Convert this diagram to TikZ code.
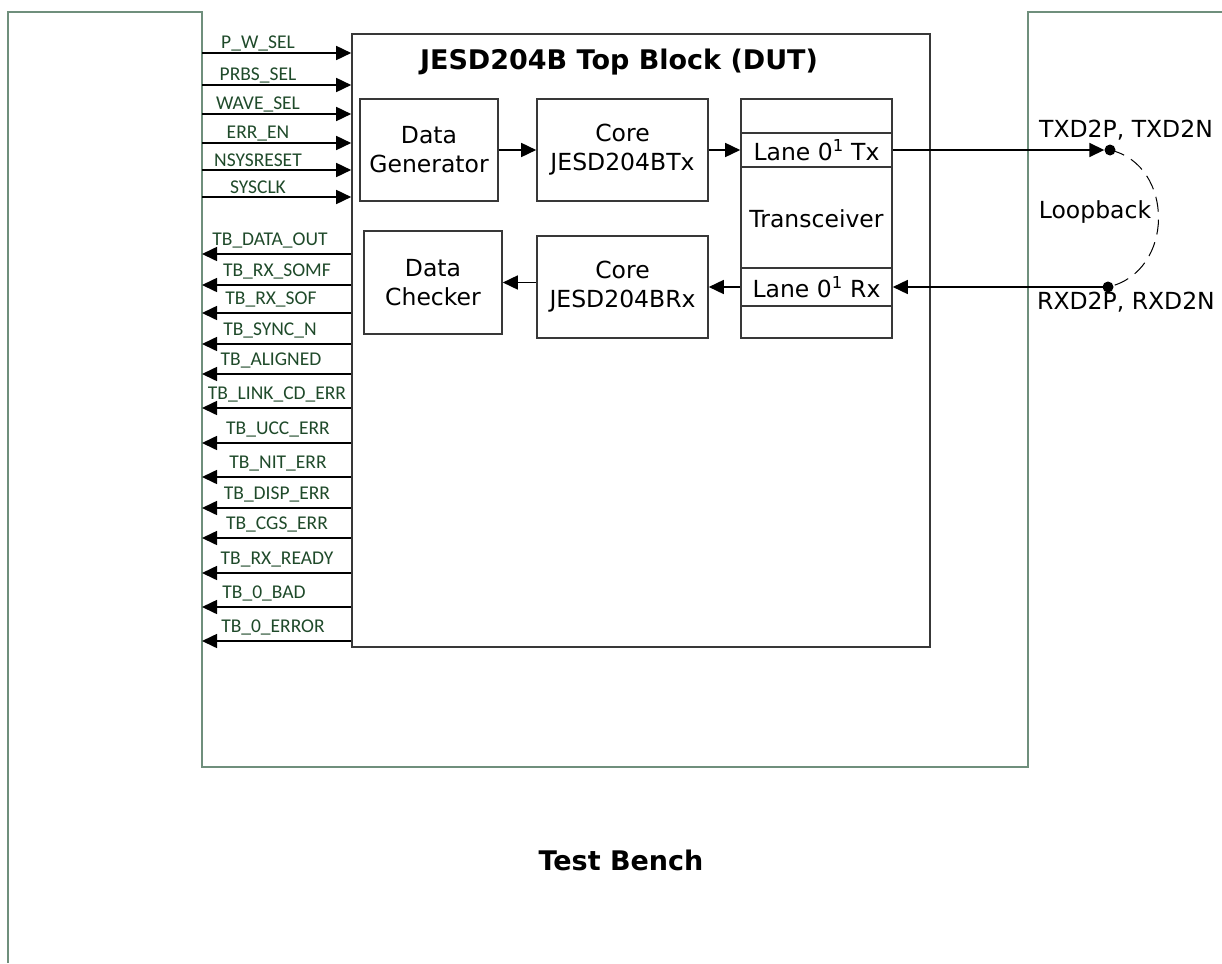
\documentclass[tikz,border=0pt]{standalone}
\usepackage{fontspec}
\setmainfont{DejaVu Sans}
\newfontfamily\sigfont{Carlito}
\usetikzlibrary{arrows.meta, positioning, calc}
\definecolor{tbGreen}{HTML}{6F8F7C}
\definecolor{sigGreen}{HTML}{1F4A2A}
\definecolor{boxGrey}{HTML}{383838}
\tikzset{
  tbline/.style  = {tbGreen, line width=1.8pt},
  sig/.style     = {-{Triangle[length=15pt,width=14pt]}, line width=1.6pt, black},
  sigl/.style    = {font=\sigfont\fontsize{19.5}{22}\selectfont, sigGreen, anchor=base, inner sep=0pt},
  blk/.style     = {draw=boxGrey, line width=1.6pt, inner sep=0pt, align=center,
                    font=\fontsize{23.5}{29}\selectfont},
  ttl/.style     = {font=\bfseries\fontsize{27}{32}\selectfont},
  pindot/.style  = {circle, fill=black, inner sep=0pt, minimum size=11pt},
  lbl/.style     = {font=\fontsize{23.5}{29}\selectfont},
}

\begin{document}
\begin{tikzpicture}[x=1pt,y=-1pt,
    lane/.style={blk, fill=white, minimum width=151pt}]
  \useasboundingbox (0,0) rectangle (1222,963);
  % test bench frame
  \draw[tbline] (8,963) -- (8,12) -- (202,12) -- (202,767) -- (1028,767) -- (1028,12) -- (1222,12);
  \node[ttl] (tbtitle) at (621,860) {Test Bench};
  % DUT
  \node[blk, minimum width=578pt, minimum height=613pt] (dut) at (641,340.5) {};
  \node[ttl] (duttitle) at (619,62) {JESD204B Top Block (DUT)};
  \node[blk, minimum width=138pt, minimum height=102pt] (gen) at (429,150) {Data\\Generator};
  \node[blk, minimum width=171pt, minimum height=102pt] (coretx) at (622.5,150) {Core\\JESD204BTx};
  \node[blk, minimum width=138pt, minimum height=103pt] (chk) at (433,282.5) {Data\\Checker};
  \node[blk, minimum width=171pt, minimum height=102pt] (corerx) at (622.5,287) {Core\\JESD204BRx};
  \node[blk, minimum width=151pt, minimum height=239pt] (xcvr) at (816.5,218.5) {Transceiver};
  \node[lane, minimum height=34pt] (lanetx) at (816.5,150) {Lane 0\textsuperscript{1} Tx};
  \node[lane, minimum height=38pt] (lanerx) at (816.5,287) {Lane 0\textsuperscript{1} Rx};
  \draw[sig] (gen.east) -- (coretx.west);
  \draw[sig] (coretx.east) -- (lanetx.west);
  \draw[sig] (lanerx.west) -- (corerx.east);
  \draw[sig] (corerx.west |- chk.east) -- (chk.east);
  % loopback
  \node[pindot] (txpin) at (1110,150) {};
  \node[pindot] (rxpin) at (1108,287) {};
  \draw[sig] (lanetx.east) -- (txpin.west);
  \draw[sig] (rxpin.center) -- (lanerx.east);
  \draw[line width=1pt, dash pattern=on 15pt off 8pt] (txpin.center) .. controls (1175,165) and (1175,272) .. (rxpin.center);
  \node[lbl] (txname) at (1126,130) {TXD2P, TXD2N};
  \node[lbl] (rxname) at (1126,302) {RXD2P, RXD2N};
  \node[lbl] (loopname) at (1095,212) {Loopback};
  % inputs
  \foreach \y/\s [count=\i] in {53/P\_W\_SEL, 85/PRBS\_SEL, 114/WAVE\_SEL,
      143/ERR\_EN, 170/NSYSRESET, 197/SYSCLK} {
    \coordinate (in\i) at (202,\y);
    \draw[sig] (in\i) -- (in\i -| dut.west);
    \node[sigl] (inl\i) at (258,\y-4) {\s};
  }
  % outputs
  \foreach \y/\x/\s [count=\i] in {254/270/TB\_DATA\_OUT, 285/277/TB\_RX\_SOMF,
      313/271/TB\_RX\_SOF, 344/270/TB\_SYNC\_N, 374/271/TB\_ALIGNED,
      408/277/TB\_LINK\_CD\_ERR, 443/278/TB\_UCC\_ERR, 477/278/TB\_NIT\_ERR,
      508/277/TB\_DISP\_ERR, 538/277/TB\_CGS\_ERR, 573/277/TB\_RX\_READY,
      607/264/TB\_0\_BAD, 641/273/TB\_0\_ERROR} {
    \coordinate (out\i) at (202,\y);
    \draw[sig] (out\i -| dut.west) -- (out\i);
    \node[sigl] (outl\i) at (\x,\y-9) {\s};
  }
\end{tikzpicture}
\end{document}
